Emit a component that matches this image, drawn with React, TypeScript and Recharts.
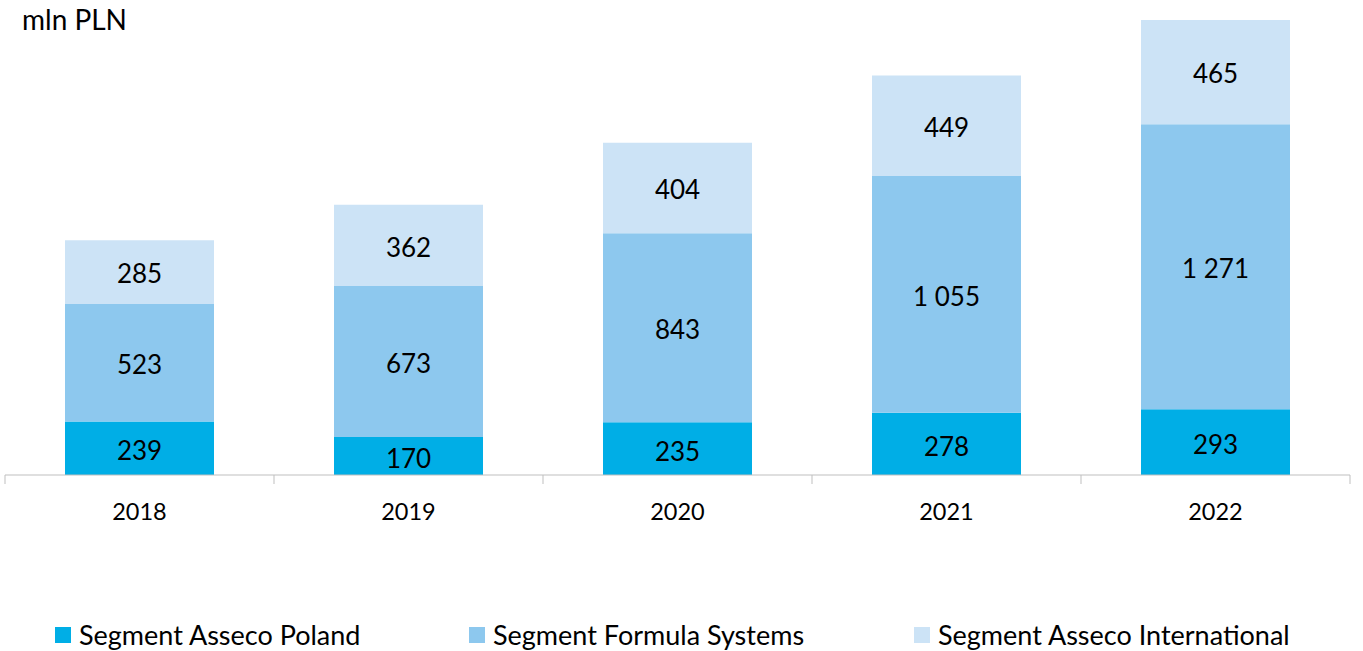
import React from 'react';
import { BarChart, Bar, XAxis, YAxis, LabelList, Legend } from 'recharts';

const years = ['2018', '2019', '2020', '2021', '2022'];
const poland = [239, 170, 235, 278, 293];
const formula = [523, 673, 843, 1055, 1271];
const international = [285, 362, 404, 449, 465];

const seriesNames = ['Segment Asseco Poland', 'Segment Formula Systems', 'Segment Asseco International'];
const colors = ['#00AEE6', '#8DC8EE', '#CCE3F6'];

const data = years.map((y, i) => ({
  year: y,
  poland: poland[i],
  formula: formula[i],
  international: international[i],
}));

const FONT = 'Lato, "Open Sans", sans-serif';

const fmt = (v: any) => String(v).replace(/\B(?=(\d{3})+(?!\d))/g, ' ');

const Tick = (props: any) => {
  const { x, y, payload, index, width, visibleTicksCount } = props;
  const off = payload && payload.offset ? payload.offset : width / (visibleTicksCount || 5) / 2;
  const last = index === (visibleTicksCount || 5) - 1;
  return (
    <g>
      <line x1={x - off} x2={x - off} y1={y} y2={y + 9} stroke="#BFBFBF" strokeWidth={1} />
      {last && <line x1={x + off} x2={x + off} y1={y} y2={y + 9} stroke="#BFBFBF" strokeWidth={1} />}
      <text x={x} y={y + 45} textAnchor="middle" fontSize={23.5} fontFamily={FONT} fill="#000">
        {payload.value}
      </text>
    </g>
  );
};

const legendStarts = [55, 469, 914];

const LegendContent = () => (
  <div style={{ position: 'relative', width: 1363, height: 40, fontFamily: FONT }}>
    {seriesNames.map((n, i) => (
      <div
        key={n}
        style={{ position: 'absolute', left: legendStarts[i], top: 0, display: 'flex', alignItems: 'center', whiteSpace: 'nowrap' }}
      >
        <span style={{ display: 'inline-block', width: 16, height: 16, background: colors[i], marginRight: 8 }} />
        <span style={{ fontSize: 27, color: '#000', lineHeight: '34px' }}>{n}</span>
      </div>
    ))}
  </div>
);

export default function App() {
  return (
    <div style={{ position: 'absolute', left: 0, top: 0, width: 1363, height: 651, background: '#fff', fontFamily: FONT }}>
      <div style={{ position: 'absolute', left: 22, top: 2, fontSize: 28, color: '#000', zIndex: 2 }}>mln PLN</div>
      <BarChart
        width={1363}
        height={651}
        data={data}
        margin={{ top: 20, right: 13, left: 5, bottom: 116 }}
      >
        <XAxis
          dataKey="year"
          height={60}
          tickLine={false}
          tickSize={0}
          tickMargin={0}
          axisLine={{ stroke: '#BFBFBF', strokeWidth: 1 }}
          tick={<Tick />}
          interval={0}
        />
        <YAxis hide domain={[0, 'dataMax']} />
        <Legend
          layout="horizontal"
          verticalAlign="middle"
          align="center"
          wrapperStyle={{ position: 'absolute', top: 618, left: 0, width: 1363 }}
          content={<LegendContent />}
        />
        <Bar dataKey="poland" stackId="a" fill={colors[0]} barSize={149} isAnimationActive={false} name={seriesNames[0]}>
          <LabelList dataKey="poland" position="center" formatter={fmt} fill="#000" fontSize={26} fontFamily={FONT} dy={3} />
        </Bar>
        <Bar dataKey="formula" stackId="a" fill={colors[1]} barSize={149} isAnimationActive={false} name={seriesNames[1]}>
          <LabelList dataKey="formula" position="center" formatter={fmt} fill="#000" fontSize={26} fontFamily={FONT} dy={2} />
        </Bar>
        <Bar dataKey="international" stackId="a" fill={colors[2]} barSize={149} isAnimationActive={false} name={seriesNames[2]}>
          <LabelList dataKey="international" position="center" formatter={fmt} fill="#000" fontSize={26} fontFamily={FONT} dy={2} />
        </Bar>
      </BarChart>
    </div>
  );
}
